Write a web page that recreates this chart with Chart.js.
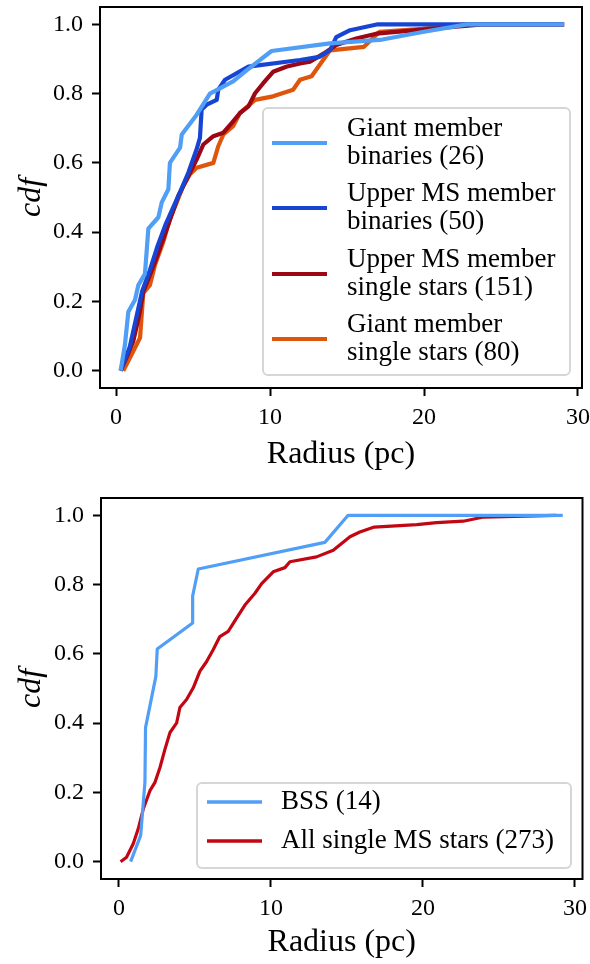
<!DOCTYPE html>
<html>
<head>
<meta charset="utf-8">
<script src="https://cdn.jsdelivr.net/npm/chart.js@4/dist/chart.umd.min.js"></script>
<style>
  html, body { margin: 0; padding: 0; background: #fff; }
  #wrap { position: relative; width: 590px; height: 964px; }
  canvas { position: absolute; left: 0; }
</style>
</head>
<body>
<div id="wrap">
  <canvas id="topChart" width="590" height="482" style="top:0"></canvas>
  <canvas id="bottomChart" width="590" height="482" style="top:482px"></canvas>
</div>
<script>
// ---------- data ----------
const xTicks = [0, 10, 20, 30];
const yTicks = [0, 0.2, 0.4, 0.6, 0.8, 1.0];

// top panel
const giantBinR   = [0.3, 0.58, 0.8, 1.23, 1.45, 1.88, 2.1, 2.75, 2.97, 3.4, 3.5, 4.16, 4.27, 5.24, 6.1, 7.6, 8.5, 10.1, 13.9, 17.3, 19.9, 22.8, 29.1];
const giantBinCdf = [0, 0.075, 0.17, 0.204, 0.247, 0.28, 0.41, 0.443, 0.486, 0.524, 0.6, 0.644, 0.682, 0.739, 0.80, 0.835, 0.868, 0.923, 0.945, 0.956, 0.978, 1.0, 1.0];

const upperBinR   = [0.3, 0.9, 1.3, 1.7, 2.2, 2.7, 3.2, 3.7, 4.2, 4.7, 5.24, 5.45, 5.56, 5.89, 6.54, 6.64, 7.08, 8.6, 11.95, 13.2, 13.9, 14.3, 15.2, 17.0, 29.1];
const upperBinCdf = [0, 0.07, 0.15, 0.23, 0.29, 0.36, 0.42, 0.47, 0.52, 0.572, 0.64, 0.672, 0.754, 0.768, 0.782, 0.811, 0.84, 0.878, 0.897, 0.906, 0.925, 0.963, 0.983, 1.0, 1.0];

const upperSingleR   = [0.3, 0.7, 1.12, 1.5, 1.77, 2.2, 2.53, 3.07, 3.6, 4.05, 4.7, 5.24, 5.67, 6.32, 6.97, 7.51, 8.05, 8.6, 9.03, 9.56, 10.2, 11.1, 11.95, 12.6, 13.5, 14.3, 15.6, 16.9, 19.5, 21.7, 23.8, 29.1];
const upperSingleCdf = [0, 0.04, 0.085, 0.16, 0.228, 0.276, 0.314, 0.381, 0.448, 0.505, 0.562, 0.61, 0.653, 0.677, 0.687, 0.715, 0.744, 0.763, 0.801, 0.83, 0.863, 0.878, 0.887, 0.892, 0.916, 0.94, 0.959, 0.973, 0.983, 0.992, 1.0, 1.0];

const giantSingleR   = [0.47, 1.02, 1.56, 1.77, 2.2, 2.53, 3.07, 3.5, 3.94, 4.37, 4.8, 5.24, 6.32, 6.64, 6.97, 7.6, 8.05, 9.03, 10.2, 11.5, 11.95, 12.7, 13.9, 16.1, 17.1, 19.9, 22.8, 29.1];
const giantSingleCdf = [0, 0.047, 0.095, 0.224, 0.247, 0.305, 0.372, 0.438, 0.486, 0.534, 0.567, 0.586, 0.6, 0.648, 0.682, 0.706, 0.744, 0.782, 0.792, 0.811, 0.84, 0.85, 0.925, 0.935, 0.978, 0.987, 1.0, 1.0];

const topLabels = [
    ['Giant member', 'binaries (26)'],
    ['Upper MS member', 'binaries (50)'],
    ['Upper MS member', 'single stars (151)'],
    ['Giant member', 'single stars (80)']
];

// bottom panel
const bssR   = [0.77, 1.43, 1.71, 1.75, 2.43, 2.52, 4.85, 4.85, 5.22, 13.55, 15.08, 29.2];
const bssCdf = [0, 0.076, 0.229, 0.387, 0.535, 0.614, 0.689, 0.767, 0.845, 0.922, 1.0, 1.0];

const allMsR   = [0.11, 0.5, 0.94, 1.27, 1.6, 2.04, 2.37, 2.7, 3.03, 3.36, 3.8, 4.01, 4.45, 4.89, 5.33, 5.77, 6.2, 6.64, 7.19, 7.74, 8.29, 8.95, 9.39, 10.15, 10.92, 11.25, 13.0, 14.1, 15.2, 15.85, 16.8, 19.6, 20.9, 22.65, 24.0, 28.75];
const allMsCdf = [0, 0.013, 0.052, 0.095, 0.152, 0.205, 0.229, 0.272, 0.325, 0.373, 0.401, 0.445, 0.468, 0.502, 0.55, 0.578, 0.612, 0.65, 0.665, 0.703, 0.741, 0.775, 0.803, 0.837, 0.849, 0.866, 0.88, 0.899, 0.938, 0.952, 0.966, 0.973, 0.979, 0.983, 0.995, 1.0];

const bottomLabels = [['BSS (14)'], ['All single MS stars (273)']];

// ---------- helpers ----------
const SERIF = "'Liberation Serif', 'DejaVu Serif', serif";
const zip = (xs, ys) => xs.map((x, i) => ({ x, y: ys[i] }));

function series(label, xs, ys, color, width) {
    return {
        label: label.join(' '),
        legendLines: label,
        data: zip(xs, ys),
        showLine: true,
        borderColor: color,
        backgroundColor: color,
        borderWidth: width,
        borderJoinStyle: 'round',
        pointRadius: 0,
        tension: 0,
        fill: false
    };
}

// box around the plot area (matplotlib spines)
const frame = {
    id: 'frame',
    afterDatasetsDraw(chart) {
        const { ctx, chartArea: a } = chart;
        ctx.save();
        ctx.strokeStyle = '#000';
        ctx.lineWidth = 2;
        ctx.strokeRect(a.left, a.top, a.right - a.left, a.bottom - a.top);
        ctx.restore();
    }
};

// legend drawn inside the axes, lower right
const insideLegend = {
    id: 'insideLegend',
    afterDraw(chart, args, o) {
        const ctx = chart.ctx;
        ctx.save();
        ctx.beginPath();
        ctx.roundRect(o.x, o.y, o.w, o.h, 5);
        ctx.fillStyle = 'rgba(255,255,255,0.85)';
        ctx.fill();
        ctx.strokeStyle = '#d6d6d6';
        ctx.lineWidth = 2;
        ctx.stroke();

        ctx.font = o.fontSize + 'px ' + SERIF;
        ctx.textBaseline = 'middle';
        ctx.textAlign = 'left';
        chart.data.datasets.forEach((ds, i) => {
            const cy = o.rows[i];
            ctx.beginPath();
            ctx.strokeStyle = ds.borderColor;
            ctx.lineWidth = o.sampleWidth;
            ctx.moveTo(o.lineX1, cy);
            ctx.lineTo(o.lineX2, cy);
            ctx.stroke();
            ctx.fillStyle = '#000';
            const lines = ds.legendLines;
            lines.forEach((t, k) => {
                ctx.fillText(t, o.textX, cy + (k - (lines.length - 1) / 2) * o.lineH);
            });
        });
        ctx.restore();
    }
};

function makeOptions(cfg) {
    const tickFont = { family: SERIF, size: 24 };
    return {
        responsive: false,
        animation: false,
        layout: { padding: cfg.padding },
        plugins: {
            legend: { display: false },
            tooltip: { enabled: false },
            insideLegend: cfg.legend
        },
        scales: {
            x: {
                type: 'linear',
                min: cfg.xMin,
                max: cfg.xMax,
                afterBuildTicks: s => { s.ticks = xTicks.map(v => ({ value: v })); },
                afterFit: s => {
                    s.height = cfg.xAxisHeight;
                    s.paddingLeft = s.paddingRight = 0;
                },
                grid: { display: true, drawOnChartArea: false, drawTicks: true, tickLength: 8, tickWidth: 2, tickColor: '#000' },
                border: { display: false },
                ticks: { color: '#000', font: tickFont, padding: 7, maxRotation: 0, callback: v => String(v) },
                title: {
                    display: true, text: 'Radius (pc)', color: '#000',
                    font: { family: SERIF, size: 32 },
                    padding: { top: 0, bottom: cfg.xTitlePad }
                }
            },
            y: {
                type: 'linear',
                min: -0.05,
                max: 1.05,
                afterBuildTicks: s => { s.ticks = yTicks.map(v => ({ value: v })); },
                afterFit: s => {
                    s.width = cfg.yAxisWidth;
                    s.paddingTop = s.paddingBottom = 0;
                },
                grid: { display: true, drawOnChartArea: false, drawTicks: true, tickLength: 8, tickWidth: 2, tickColor: '#000' },
                border: { display: false },
                ticks: { color: '#000', font: tickFont, padding: 9, callback: v => v.toFixed(1) },
                title: {
                    display: true, text: 'cdf', color: '#000',
                    font: { family: SERIF, size: 32, style: 'italic' },
                    padding: { top: 12, bottom: 0 }
                }
            }
        }
    };
}

// ---------- top panel ----------
new Chart(document.getElementById('topChart'), {
    type: 'scatter',
    data: {
        datasets: [
            series(topLabels[0], giantBinR, giantBinCdf, '#509ef5', 4.2),
            series(topLabels[1], upperBinR, upperBinCdf, '#1745d3', 4.2),
            series(topLabels[2], upperSingleR, upperSingleCdf, '#9b0714', 4.2),
            series(topLabels[3], giantSingleR, giantSingleCdf, '#df550b', 4.2)
        ]
    },
    options: makeOptions({
        padding: { top: 7, right: 8, left: 0, bottom: 0 },
        xMin: -1.04, xMax: 30.26,
        xAxisHeight: 94, yAxisWidth: 100, xTitlePad: 8,
        legend: {
            x: 263, y: 108, w: 307, h: 267,
            rows: [143, 208, 274, 339],
            lineX1: 272, lineX2: 327, textX: 347,
            lineH: 28, fontSize: 27, sampleWidth: 4.2
        }
    }),
    plugins: [frame, insideLegend]
});

// ---------- bottom panel ----------
new Chart(document.getElementById('bottomChart'), {
    type: 'scatter',
    data: {
        datasets: [
            series(bottomLabels[0], bssR, bssCdf, '#509ef5', 3.2),
            series(bottomLabels[1], allMsR, allMsCdf, '#c20612', 3.2)
        ]
    },
    options: makeOptions({
        padding: { top: 16, right: 7.5, left: 0, bottom: 0 },
        xMin: -1.18, xMax: 30.5,
        xAxisHeight: 85, yAxisWidth: 101, xTitlePad: 2,
        legend: {
            x: 197, y: 301, w: 374, h: 85,
            rows: [320, 359],
            lineX1: 207, lineX2: 262, textX: 281,
            lineH: 28, fontSize: 27, sampleWidth: 3.4
        }
    }),
    plugins: [frame, insideLegend]
});
</script>
</body>
</html>
